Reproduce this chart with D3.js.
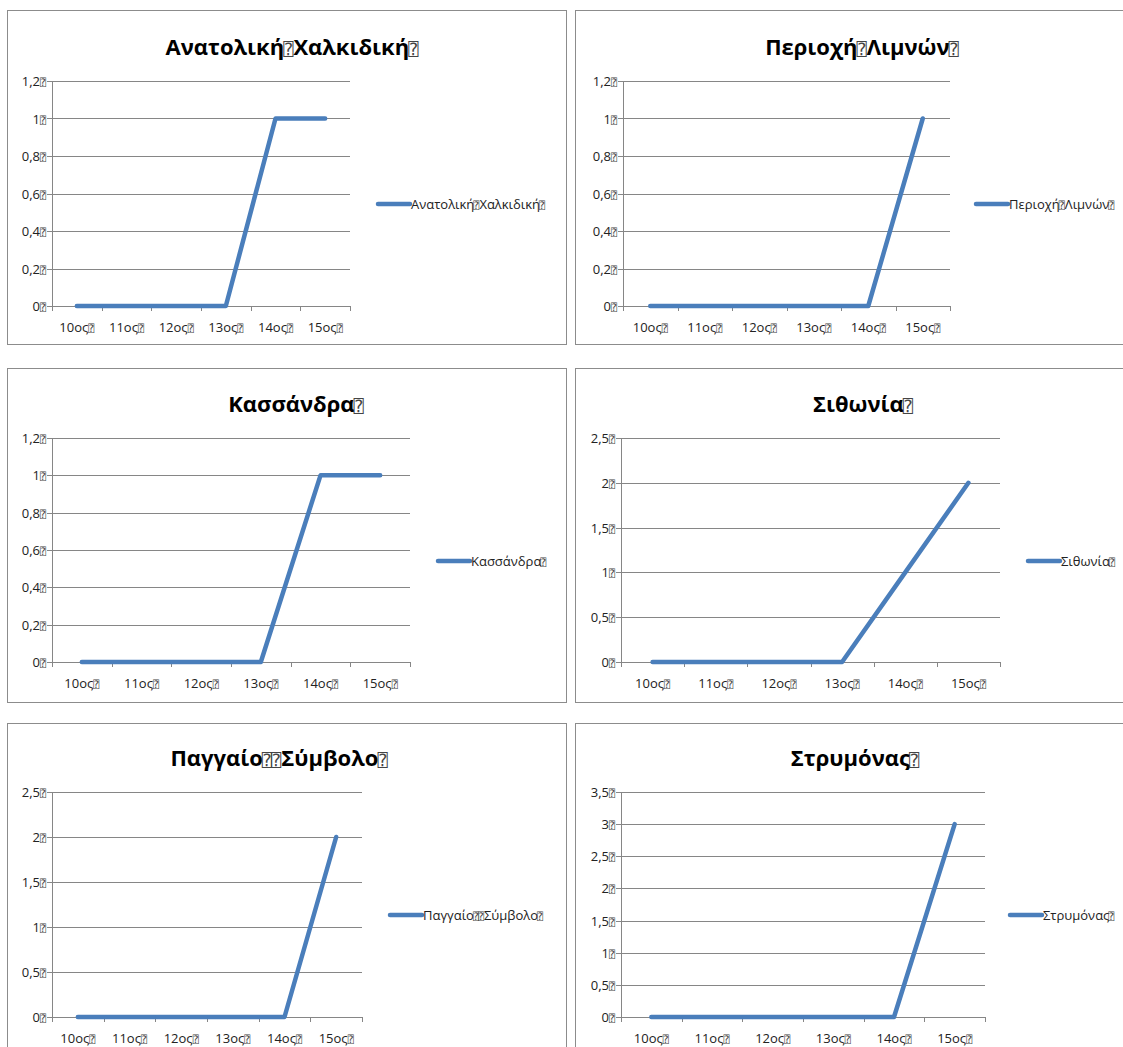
<!DOCTYPE html>
<html>
<head>
<meta charset="utf-8">
<script src="https://cdn.jsdelivr.net/npm/d3@7"></script>
<style>
  body { margin: 0; background: #fff; }
  svg { display: block; }
</style>
</head>
<body>
<svg id="chart" width="1123" height="1047"></svg>
<script>
// ---------- DATA ----------
const BOX = "\u2370"; // rendered "missing glyph" box seen in the source
const categories = ["10ος" + BOX, "11ος" + BOX, "12ος" + BOX, "13ος" + BOX, "14ος" + BOX, "15ος" + BOX];

const titles = [
  "Ανατολική" + BOX + "Χαλκιδική" + BOX,
  "Περιοχή" + BOX + "Λιμνών" + BOX,
  "Κασσάνδρα" + BOX,
  "Σιθωνία" + BOX,
  "Παγγαίο" + BOX + BOX + "Σύμβολο" + BOX,
  "Στρυμόνας" + BOX
];

const anatolikiChalkidiki = [0, 0, 0, 0, 1, 1];
const perioxiLimnon      = [0, 0, 0, 0, 0, 1];
const kassandra          = [0, 0, 0, 0, 1, 1];
const sithonia           = [0, 0, 0, 0, 1, 2];
const paggaioSymvolo     = [0, 0, 0, 0, 0, 2];
const strymonas          = [0, 0, 0, 0, 0, 3];

const yTicks1 = [0, 0.2, 0.4, 0.6, 0.8, 1, 1.2];
const yTicks25 = [0, 0.5, 1, 1.5, 2, 2.5];
const yTicks35 = [0, 0.5, 1, 1.5, 2, 2.5, 3, 3.5];

const seriesList = [anatolikiChalkidiki, perioxiLimnon, kassandra, sithonia, paggaioSymvolo, strymonas];
const tickList = [yTicks1, yTicks1, yTicks1, yTicks25, yTicks25, yTicks35];

// ---------- LAYOUT ----------
const panels = [
  { box: [7, 10, 559, 334],   plot: [52, 81, 350, 306],   titleX: 292, titleY: 55,  legX: 378, legY: 204 },
  { box: [575, 10, 560, 334], plot: [623, 81, 950, 306],  titleX: 862, titleY: 55,  legX: 976, legY: 204 },
  { box: [7, 368, 559, 334],  plot: [52, 438, 410, 662],  titleX: 296, titleY: 412, legX: 438, legY: 561 },
  { box: [575, 368, 560, 334],plot: [621, 438, 1000, 662],titleX: 863, titleY: 412, legX: 1028, legY: 561 },
  { box: [7, 723, 559, 334],  plot: [52, 792, 362, 1017], titleX: 279, titleY: 766, legX: 390, legY: 915 },
  { box: [575, 723, 560, 334],plot: [621, 792, 985, 1017],titleX: 855, titleY: 766, legX: 1010, legY: 915 }
];

const FONT = "'Open Sans', 'Noto Sans', sans-serif";
const BOXFONT = "'DejaVu Sans Mono', 'DejaVu Sans', sans-serif";
const lineColor = "#4A7EBB";
const gridColor = "#868686";

const fmt = v => String(v).replace(".", ",");

const svg = d3.select("#chart");

function setBoxText(sel, str, boxSize, boxDx) {
  sel.text(null);
  const parts = str.split(BOX);
  parts.forEach((p, i) => {
    if (p.length) sel.append("tspan").text(p);
    if (i < parts.length - 1) {
      sel.append("tspan")
        .attr("font-family", BOXFONT)
        .attr("font-weight", "normal")
        .attr("font-size", boxSize)
        .attr("fill", "#444")
        .attr("dx", boxDx)
        .text(BOX);
    }
  });
}

panels.forEach((p, i) => {
  const g = svg.append("g");
  const [bx, by, bw, bh] = p.box;
  g.append("rect").attr("x", bx + 0.5).attr("y", by + 0.5).attr("width", bw).attr("height", bh)
    .attr("fill", "#fff").attr("stroke", "#8c8c8c").attr("stroke-width", 1);

  const [x0, y0, x1, y1] = p.plot;
  const ticks = tickList[i];
  const yMax = ticks[ticks.length - 1];

  const x = d3.scaleBand().domain(categories).range([x0, x1]).paddingInner(0).paddingOuter(0);
  const y = d3.scaleLinear().domain([0, yMax]).range([y1, y0]);

  // grid lines
  g.append("g").selectAll("line").data(ticks).join("line")
    .attr("x1", x0 - 5).attr("x2", x1)
    .attr("y1", d => Math.round(y(d)) + 0.5).attr("y2", d => Math.round(y(d)) + 0.5)
    .attr("stroke", gridColor).attr("stroke-width", 1);

  // y axis line
  g.append("line").attr("x1", x0 + 0.5).attr("x2", x0 + 0.5).attr("y1", y0).attr("y2", y1 + 5)
    .attr("stroke", gridColor);

  // x tick marks at band boundaries
  const bounds = categories.map(c => x(c)).concat([x1]);
  g.append("g").selectAll("line").data(bounds).join("line")
    .attr("x1", d => Math.round(d) + 0.5).attr("x2", d => Math.round(d) + 0.5)
    .attr("y1", y1).attr("y2", y1 + 5)
    .attr("stroke", gridColor);

  // y labels
  g.append("g").selectAll("text").data(ticks).join("text")
    .attr("x", x0 - 6).attr("y", d => y(d) + 5)
    .attr("text-anchor", "end")
    .attr("font-family", FONT).attr("font-size", 13).attr("fill", "#222")
    .each(function(d) { setBoxText(d3.select(this), fmt(d) + BOX, 10, 0); });

  // x labels
  g.append("g").selectAll("text").data(categories).join("text")
    .attr("x", d => x(d) + x.bandwidth() / 2).attr("y", y1 + 26)
    .attr("text-anchor", "middle")
    .attr("font-family", FONT).attr("font-size", 13).attr("fill", "#222")
    .each(function(d) { setBoxText(d3.select(this), d, 10, 0); });

  // series line
  const vals = seriesList[i];
  const line = d3.line().x((d, k) => x(categories[k]) + x.bandwidth() / 2).y(d => y(d));
  g.append("path").datum(vals).attr("d", line)
    .attr("fill", "none").attr("stroke", lineColor).attr("stroke-width", 4.5)
    .attr("stroke-linecap", "round").attr("stroke-linejoin", "round");

  // title
  const t = g.append("text").attr("x", p.titleX).attr("y", p.titleY)
    .attr("text-anchor", "middle")
    .attr("font-family", FONT).attr("font-weight", "bold").attr("font-size", 22).attr("fill", "#000");
  setBoxText(t, titles[i], 17, -1);

  // legend
  g.append("line").attr("x1", p.legX).attr("x2", p.legX + 32).attr("y1", p.legY).attr("y2", p.legY)
    .attr("stroke", lineColor).attr("stroke-width", 4.5).attr("stroke-linecap", "round");
  const lt = g.append("text").attr("x", p.legX + 33).attr("y", p.legY + 5)
    .attr("font-family", FONT).attr("font-size", 13).attr("fill", "#222");
  setBoxText(lt, titles[i], 10, -1);
});
</script>
</body>
</html>
